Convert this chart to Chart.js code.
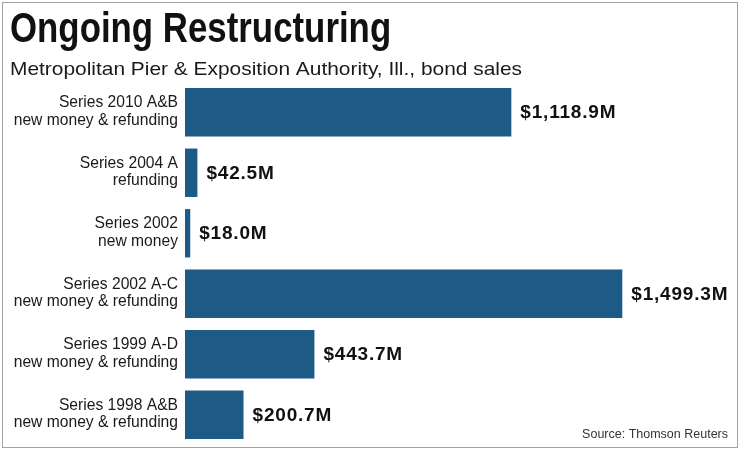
<!DOCTYPE html>
<html>
<head>
<meta charset="utf-8">
<script src="https://cdn.jsdelivr.net/npm/chart.js@4.4.1/dist/chart.umd.min.js"></script>
<style>
  html, body { margin: 0; padding: 0; background: #fff; }
  #wrap { position: relative; width: 740px; height: 449px; }
  #frame {
    position: absolute; left: 2px; top: 2px; width: 734px; height: 444px;
    border: 1px solid #a3a3a3; pointer-events: none;
  }
</style>
</head>
<body>
<div id="wrap">
  <canvas id="chart" width="740" height="449"></canvas>
  <div id="frame"></div>
</div>
<script>
// Datos de la gráfica
const titleText = 'Ongoing Restructuring';
const subtitleText = 'Metropolitan Pier & Exposition Authority, Ill., bond sales';
const sourceText = 'Source: Thomson Reuters';

const seriesNames = ['Series 2010 A&B', 'Series 2004 A', 'Series 2002', 'Series 2002 A-C', 'Series 1999 A-D', 'Series 1998 A&B'];
const purposes = ['new money & refunding', 'refunding', 'new money', 'new money & refunding', 'new money & refunding', 'new money & refunding'];
const amounts = [1118.9, 42.5, 18.0, 1499.3, 443.7, 200.7];  // millones de dólares

const BAR_COLOR = '#1d5a86';
const SANS = '"Liberation Sans", Arial, sans-serif';

// Formato de etiqueta: $1,118.9M
function formatAmount(v) {
    return '$' + v.toLocaleString('en-US', { minimumFractionDigits: 1, maximumFractionDigits: 1 }) + 'M';
}

// Texto con escala horizontal (imita la tipografía condensada del original)
function drawScaled(ctx, text, x, y, sx) {
    ctx.save();
    ctx.translate(x, y);
    ctx.scale(sx, 1);
    ctx.fillText(text, 0, 0);
    ctx.restore();
}

// Títulos, etiquetas del eje, valores y fuente
const annotations = {
    id: 'annotations',
    afterDatasetsDraw(chart) {
        const ctx = chart.ctx;
        ctx.save();

        ctx.fillStyle = '#111';
        ctx.textAlign = 'left';
        ctx.textBaseline = 'alphabetic';
        ctx.font = 'bold 43px ' + SANS;
        drawScaled(ctx, titleText, 10, 42, 0.81);

        ctx.fillStyle = '#1a1a1a';
        ctx.font = '18.5px ' + SANS;
        drawScaled(ctx, subtitleText, 10, 75, 1.13);

        // etiquetas de categoría (dos líneas, alineadas a la derecha)
        const yScale = chart.scales.y;
        ctx.font = '17px ' + SANS;
        ctx.fillStyle = '#1a1a1a';
        ctx.textAlign = 'right';
        seriesNames.forEach((name, i) => {
            const cy = yScale.getPixelForValue(i);
            drawScaled(ctx, name, yScale.right - 7, cy - 5, 0.92);
            drawScaled(ctx, purposes[i], yScale.right - 7, cy + 12.5, 0.92);
        });

        // valores al final de cada barra
        const meta = chart.getDatasetMeta(0);
        ctx.font = 'bold 19px ' + SANS;
        ctx.fillStyle = '#111';
        ctx.textAlign = 'left';
        ctx.textBaseline = 'middle';
        if ('letterSpacing' in ctx) ctx.letterSpacing = '0.8px';
        meta.data.forEach((bar, i) => {
            ctx.fillText(formatAmount(amounts[i]), bar.x + 9, bar.y + 1);
        });
        if ('letterSpacing' in ctx) ctx.letterSpacing = '0px';

        ctx.font = '12.5px ' + SANS;
        ctx.fillStyle = '#333';
        ctx.textAlign = 'right';
        ctx.textBaseline = 'alphabetic';
        ctx.fillText(sourceText, 728, 438);
        ctx.restore();
    }
};

new Chart(document.getElementById('chart'), {
    type: 'bar',
    data: {
        labels: seriesNames,
        datasets: [{
            data: amounts,
            backgroundColor: BAR_COLOR,
            borderWidth: 0,
            barPercentage: 0.8,
            categoryPercentage: 1.0
        }]
    },
    options: {
        indexAxis: 'y',
        responsive: false,
        animation: false,
        layout: { padding: { top: 82, bottom: 4, left: 0, right: 30 } },
        scales: {
            x: {
                display: false,
                min: 0,
                max: 1800
            },
            y: {
                grid: { display: false, drawTicks: false },
                border: { display: false },
                ticks: { display: false },
                afterFit(scale) { scale.width = 185; }
            }
        },
        plugins: {
            legend: { display: false },
            tooltip: { enabled: false }
        }
    },
    plugins: [annotations]
});
</script>
</body>
</html>
